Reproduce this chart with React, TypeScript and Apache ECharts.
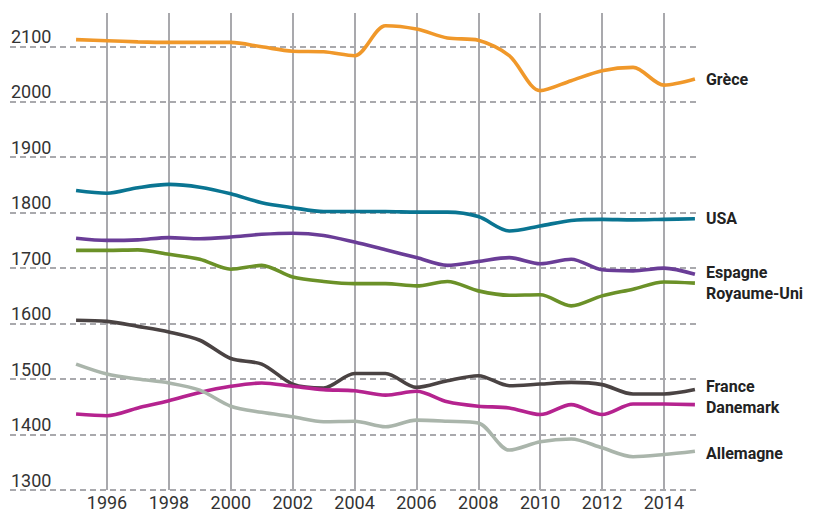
import React, { useEffect, useRef } from "react";
import * as echarts from "echarts";

const years = [1995, 1996, 1997, 1998, 1999, 2000, 2001, 2002, 2003, 2004, 2005, 2006, 2007, 2008, 2009, 2010, 2011, 2012, 2013, 2014, 2015];
const gridYears = [1996, 1998, 2000, 2002, 2004, 2006, 2008, 2010, 2012, 2014];

const grece = [2112, 2110, 2108, 2107, 2107, 2107, 2099, 2091, 2090, 2083, 2137, 2131, 2115, 2111, 2083, 2020, 2038, 2056, 2062, 2030, 2041];
const usa = [1840, 1835, 1845, 1851, 1846, 1834, 1818, 1809, 1802, 1802, 1802, 1801, 1801, 1793, 1767, 1776, 1786, 1788, 1787, 1788, 1789];
const espagne = [1754, 1750, 1751, 1755, 1753, 1756, 1761, 1763, 1759, 1747, 1733, 1719, 1705, 1712, 1719, 1708, 1716, 1697, 1695, 1700, 1689];
const royaumeUni = [1732, 1732, 1733, 1725, 1716, 1698, 1705, 1684, 1676, 1672, 1672, 1668, 1676, 1659, 1651, 1652, 1632, 1650, 1662, 1675, 1673];
const france = [1606, 1604, 1595, 1585, 1570, 1537, 1527, 1491, 1484, 1510, 1510, 1485, 1497, 1506, 1488, 1491, 1494, 1490, 1473, 1473, 1481];
const danemark = [1437, 1434, 1448, 1461, 1476, 1487, 1493, 1487, 1481, 1479, 1471, 1478, 1459, 1451, 1448, 1436, 1454, 1436, 1455, 1455, 1454];
const allemagne = [1527, 1509, 1500, 1493, 1480, 1451, 1440, 1432, 1423, 1424, 1414, 1426, 1424, 1421, 1372, 1387, 1392, 1376, 1360, 1364, 1370];

const seriesDefs = [
  { name: "Grèce", values: grece, color: "#f0982a", offset: [0, 0] },
  { name: "USA", values: usa, color: "#0a7592", offset: [0, 0] },
  { name: "Espagne", values: espagne, color: "#6a3d97", offset: [0, -2] },
  { name: "Royaume-Uni", values: royaumeUni, color: "#6b9128", offset: [0, 10] },
  { name: "France", values: france, color: "#4a4343", offset: [0, -3] },
  { name: "Danemark", values: danemark, color: "#b5238f", offset: [0, 3] },
  { name: "Allemagne", values: allemagne, color: "#aab5ab", offset: [0, 2] },
];

export default function App() {
  const ref = useRef<HTMLDivElement>(null);
  useEffect(() => {
    if (!ref.current) return;
    const chart = echarts.init(ref.current, undefined, { renderer: "svg" });
    const font = "Roboto, 'Noto Sans', sans-serif";
    chart.setOption({
      animation: false,
      backgroundColor: "#ffffff",
      grid: { left: 10, right: 113, top: 13, bottom: 19.3, containLabel: false },
      xAxis: {
        type: "value",
        min: 1992.865,
        max: 2015.164,
        axisLine: { show: false },
        axisTick: { show: false, customValues: gridYears },
        axisLabel: {
          customValues: gridYears,
          color: "#333",
          fontSize: 18,
          fontFamily: font,
          margin: 3,
          formatter: (v: number) => String(v),
        },
        splitLine: { show: true, lineStyle: { color: "#a9a9ad", width: 2, type: "solid" } },
      },
      yAxis: {
        type: "value",
        min: 1300,
        max: 2160,
        interval: 100,
        axisLine: { show: false },
        axisTick: { show: false },
        axisLabel: {
          inside: true,
          margin: 1,
          align: "left",
          verticalAlign: "bottom",
          lineHeight: 18,
          padding: [0, 0, 1, 0],
          color: "#333",
          fontSize: 18,
          fontFamily: font,
          showMaxLabel: false,
          formatter: (v: number) => String(v),
        },
        splitLine: {
          show: true,
          showMaxLine: false,
          lineStyle: { color: "#a9a9ad", width: 2, type: [6, 4] },
        },
      },
      series: seriesDefs.map((s) => ({
        name: s.name,
        type: "line",
        data: years.map((y, i) => [y, s.values[i]]),
        smooth: 0.3,
        showSymbol: false,
        symbol: "none",
        z: 3,
        lineStyle: { color: s.color, width: 3.6 },
        itemStyle: { color: s.color },
        endLabel: {
          show: true,
          formatter: s.name,
          distance: 11,
          offset: s.offset,
          color: "#222",
          fontSize: 16,
          fontWeight: "bold",
          fontFamily: font,
        },
      })),
    });
    return () => chart.dispose();
  }, []);
  return (
    <div
      ref={ref}
      style={{ position: "fixed", left: 0, top: 0, width: 813, height: 511, background: "#fff" }}
    />
  );
}
